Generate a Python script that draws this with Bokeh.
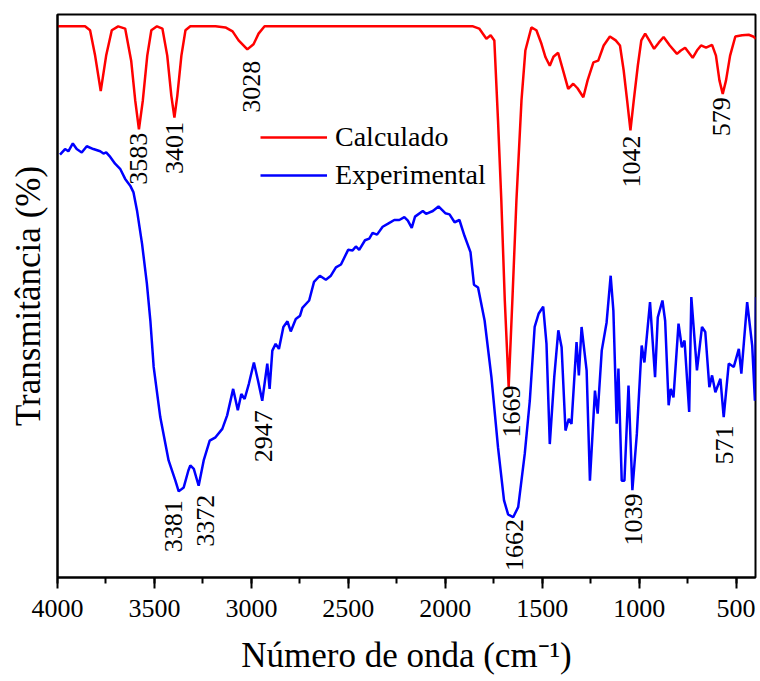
from math import pi
from bokeh.plotting import figure
from bokeh.models import Range1d, SingleIntervalTicker, FixedTicker, Legend, LegendItem
from bokeh.core.properties import value
from bokeh.embed import file_html
from bokeh.resources import INLINE

# ---- data: wavenumber (cm-1) and transmittance (arbitrary %, 0-100 frame) ----
calc_wn = [4000, 3858, 3832, 3806, 3777, 3749, 3720, 3687, 3651, 3620,
           3599, 3580, 3560, 3537, 3516, 3487, 3459, 3434, 3413, 3397,
           3382, 3361, 3340, 3315, 3185, 3134, 3097, 3066, 3021, 2989,
           2963, 2932, 1857, 1825, 1788, 1766, 1747, 1728, 1711, 1693,
           1673, 1654, 1633, 1607, 1587, 1556, 1530, 1504, 1483, 1461,
           1442, 1418, 1395, 1366, 1340, 1318, 1288, 1266, 1236, 1211,
           1183, 1151, 1121, 1099, 1080, 1062, 1045, 1028, 1007, 989,
           969, 948, 923, 899, 874, 842, 805, 785, 763, 724,
           702, 681, 655, 624, 604, 586, 569, 552, 531, 504,
           469, 435, 412, 397]
calc_t = [97.9, 97.9, 97.2, 92.7, 86.4, 92.7, 97.2, 97.9, 97.5, 91.8,
          84.7, 79.6, 84.7, 92.7, 97.2, 97.9, 97.5, 92.7, 85.6, 81.7,
          85.6, 92.7, 97.2, 97.9, 97.9, 97.7, 97.0, 95.4, 93.8, 94.7,
          96.6, 97.9, 97.9, 97.5, 95.7, 96.3, 95.4, 81.2, 67.0, 49.2,
          33.8, 49.2, 67.0, 84.7, 93.6, 97.7, 97.2, 94.8, 92.4, 90.9,
          92.5, 93.2, 90.4, 86.8, 87.7, 86.9, 85.3, 88.3, 91.5, 91.8,
          94.5, 96.1, 95.4, 94.5, 90.1, 84.7, 79.4, 84.7, 90.9, 95.4,
          96.6, 95.4, 93.9, 95.0, 96.0, 94.5, 93.0, 93.6, 94.1, 92.3,
          93.6, 94.5, 94.1, 94.6, 92.7, 88.3, 85.9, 88.3, 92.7, 96.1,
          96.3, 96.4, 96.1, 95.7]

exp_wn = [3987, 3961, 3944, 3921, 3901, 3875, 3849, 3815, 3780, 3763,
          3749, 3728, 3703, 3677, 3651, 3625, 3608, 3590, 3564, 3539,
          3521, 3504, 3470, 3427, 3392, 3375, 3349, 3325, 3315, 3297,
          3272, 3246, 3215, 3185, 3150, 3125, 3094, 3070, 3052, 3035,
          3013, 2987, 2966, 2944, 2918, 2906, 2892, 2875, 2858, 2835,
          2814, 2797, 2771, 2749, 2737, 2702, 2677, 2647, 2616, 2590,
          2564, 2538, 2501, 2478, 2461, 2444, 2414, 2392, 2375, 2352,
          2323, 2297, 2263, 2237, 2211, 2193, 2173, 2156, 2116, 2099,
          2064, 2035, 2000, 1978, 1952, 1927, 1901, 1870, 1852, 1831,
          1797, 1762, 1728, 1697, 1676, 1650, 1624, 1590, 1564, 1539,
          1518, 1495, 1478, 1461, 1438, 1417, 1400, 1380, 1363, 1349,
          1323, 1311, 1297, 1271, 1254, 1228, 1214, 1193, 1168, 1147,
          1133, 1116, 1107, 1090, 1076, 1055, 1035, 1012, 987, 973,
          944, 918, 904, 880, 866, 848, 837, 823, 797, 780,
          766, 742, 731, 702, 676, 659, 638, 624, 607, 581,
          564, 538, 512, 486, 473, 443, 417, 403, 397]
exp_t = [75.1, 76.1, 75.7, 77.1, 76.1, 75.5, 76.6, 76.1, 75.7, 75.3,
         75.5, 74.7, 73.5, 72.6, 70.8, 69.6, 68.4, 65.2, 59.3, 52.2,
         45.6, 37.4, 28.5, 20.8, 17.2, 15.3, 16.0, 19.0, 19.9, 19.3,
         16.3, 20.8, 24.3, 24.9, 26.4, 28.8, 33.5, 29.7, 32.6, 31.7,
         34.4, 38.2, 35.0, 31.4, 38.0, 33.5, 40.3, 41.5, 40.6, 44.5,
         45.5, 43.7, 45.9, 46.5, 47.9, 49.2, 52.5, 53.6, 52.9, 53.6,
         55.1, 55.6, 58.2, 58.1, 58.8, 58.2, 59.9, 60.2, 61.2, 60.9,
         62.3, 62.8, 63.5, 63.5, 64.0, 63.4, 62.1, 64.1, 65.1, 64.6,
         65.1, 65.9, 64.7, 64.5, 63.1, 63.5, 60.7, 57.8, 52.0, 51.5,
         45.6, 35.6, 23.1, 13.7, 11.2, 10.7, 12.5, 22.0, 31.4, 44.5,
         46.9, 48.1, 41.5, 23.7, 35.6, 43.9, 40.9, 26.1, 28.2, 27.3,
         41.8, 35.9, 44.5, 36.8, 17.2, 33.2, 29.1, 40.3, 45.3, 53.6,
         47.4, 27.3, 37.1, 17.2, 17.2, 34.1, 15.5, 25.5, 41.2, 38.2,
         48.9, 35.6, 46.2, 49.2, 45.6, 30.6, 33.5, 32.0, 45.1, 40.9,
         42.1, 29.4, 49.8, 36.8, 44.5, 43.6, 33.8, 35.9, 32.9, 35.3,
         28.5, 38.0, 37.4, 40.6, 36.2, 48.9, 41.2, 31.4, 49.8]

calc_peak_labels = ["3583", "3401", "3028", "1669", "1042", "579"]
calc_peak_wn = [3580, 3397, 3000, 1659, 1038, 576]
calc_peak_t = [79.0, 80.9, 91.8, 34.1, 78.5, 85.3]

exp_peak_labels = ["3381", "3372", "2947", "1662", "1039", "571"]
exp_peak_wn = [3401, 3237, 2935, 1645, 1030, 559]
exp_peak_t = [13.7, 14.7, 29.7, 10.4, 14.9, 27.0]

series_names = ["Calculado", "Experimental"]

FONT = "Liberation Serif"

p = figure(width=760, height=681,
           x_range=Range1d(4000, 400), y_range=Range1d(0, 100),
           output_backend="svg", toolbar_location=None,
           min_border_left=57, min_border_right=5,
           min_border_top=14, min_border_bottom=104)

r_calc = p.line(calc_wn, calc_t, line_color="#FF0000", line_width=2.5)
r_exp = p.line(exp_wn, exp_t, line_color="#0000FF", line_width=2.5)

for xs, ys, labs in ((calc_peak_wn, calc_peak_t, calc_peak_labels),
                     (exp_peak_wn, exp_peak_t, exp_peak_labels)):
    p.text(x=xs, y=ys, text=labs, angle=pi / 2,
           text_align="right", text_baseline="middle",
           text_font=value(FONT), text_font_size="26px", text_color="black")

p.xgrid.visible = False
p.ygrid.visible = False
p.outline_line_color = "black"
p.outline_line_width = 2

xa = p.xaxis[0]
xa.ticker = SingleIntervalTicker(interval=500, num_minor_ticks=2)
xa.axis_label = "Número de onda (cm⁻¹)"
xa.axis_label_text_font = FONT
xa.axis_label_text_font_style = "normal"
xa.axis_label_text_font_size = "35px"
xa.axis_label_text_color = "black"
xa.major_label_text_font = FONT
xa.major_label_text_font_size = "26px"
xa.major_label_text_color = "black"
xa.axis_line_width = 2
xa.axis_line_color = "black"
xa.major_tick_line_width = 2
xa.minor_tick_line_width = 2
xa.major_tick_line_color = "black"
xa.minor_tick_line_color = "black"
xa.major_tick_out = 11
xa.major_tick_in = 0
xa.minor_tick_out = 6
xa.minor_tick_in = 0
xa.major_label_standoff = 11
xa.axis_label_standoff = 16

ya = p.yaxis[0]
ya.ticker = FixedTicker(ticks=[])
ya.axis_label = "Transmitância (%)"
ya.axis_label_text_font = FONT
ya.axis_label_text_font_style = "normal"
ya.axis_label_text_font_size = "35px"
ya.axis_label_text_color = "black"
ya.axis_line_width = 2
ya.axis_line_color = "black"
ya.major_tick_line_color = None
ya.minor_tick_line_color = None
ya.axis_label_standoff = 10

legend = Legend(items=[LegendItem(label=series_names[0], renderers=[r_calc]),
                       LegendItem(label=series_names[1], renderers=[r_exp])],
                location=(203, 386), orientation="vertical",
                label_text_font=FONT, label_text_font_size="28px",
                label_text_color="black",
                glyph_width=67, glyph_height=30, label_height=30,
                spacing=6, padding=0, margin=0, label_standoff=8,
                border_line_color=None, background_fill_alpha=0)
p.add_layout(legend, "center")

open("out.html", "w").write(file_html(p, INLINE))
